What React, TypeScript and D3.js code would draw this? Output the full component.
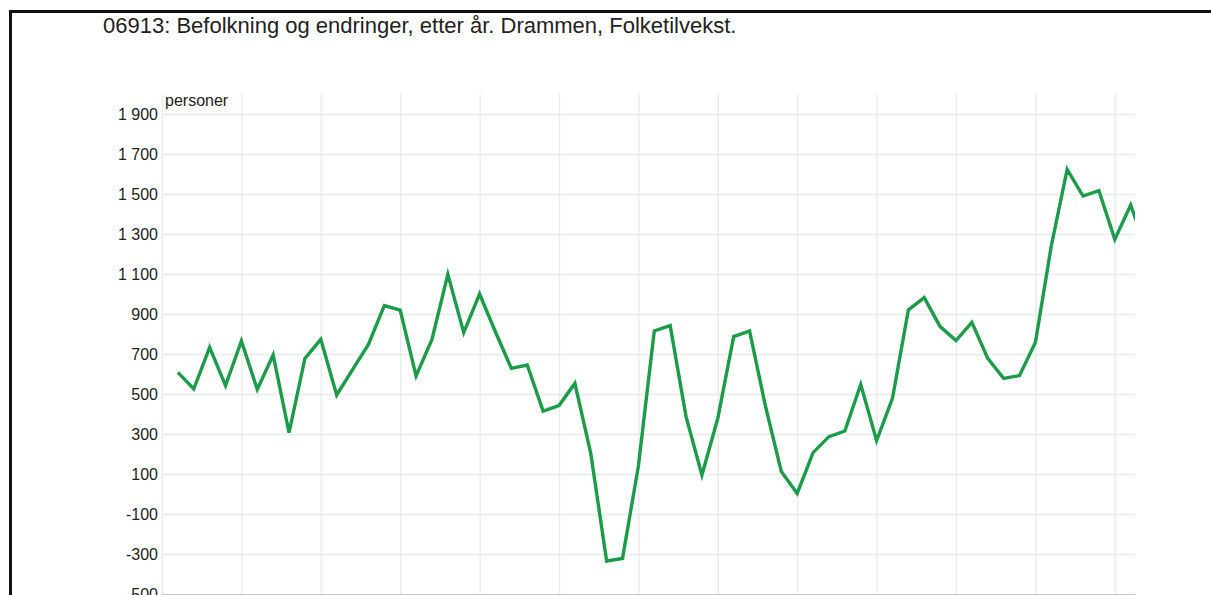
import React from 'react';
import * as d3 from 'd3';

const width = 1211;
const height = 595;

// Folketilvekst, Drammen (personer)
const years = d3.range(1951, 2013);
const growth = [
  608, 525, 733, 542, 765, 523, 695, 307, 678, 773,
  495, 622, 748, 942, 920, 590, 773, 1098, 807, 1000,
  810, 628, 645, 415, 442, 553, 203, -335, -322, 140,
  815, 842, 387, 95, 378, 787, 815, 440, 112, 3,
  207, 287, 315, 548, 267, 478, 920, 982, 837, 767,
  858, 678, 578, 592, 757, 1240, 1623, 1490, 1517, 1273,
  1445, 1220,
];
const yTicks = [-500, -300, -100, 100, 300, 500, 700, 900, 1100, 1300, 1500, 1700, 1900];
const xGridYears = d3.range(1950, 2015, 5);

const title = '06913: Befolkning og endringer, etter år. Drammen, Folketilvekst.';
const unit = 'personer';

const plot = { left: 162, right: 1135, top: 94, bottom: 594 };
const yearStep = 15.88;

const fmt = (v: number) => {
  const s = d3.format(',')(Math.abs(v)).replace(/,/g, ' ');
  return (v < 0 ? '-' : '') + s;
};

export default function App() {
  const x = d3
    .scaleLinear()
    .domain([1950, 2012])
    .range([plot.left, plot.left + 62 * yearStep]);
  const y = d3.scaleLinear().domain([-500, 2000]).range([plot.bottom, plot.top]);

  const line = d3
    .line<number>()
    .x((_, i) => x(years[i]))
    .y((d) => y(d));

  const font = '"Liberation Sans", Arial, sans-serif';

  return (
    <div style={{ position: 'absolute', left: 0, top: 0 }}>
      <svg width={width} height={height} style={{ display: 'block', background: '#fff' }}>
        <defs>
          <clipPath id="plotClip">
            <rect x={plot.left} y={plot.top - 5} width={plot.right - plot.left} height={plot.bottom - plot.top + 10} />
          </clipPath>
        </defs>

        {/* frame */}
        <line x1={9} x2={width} y1={11.5} y2={11.5} stroke="#111" strokeWidth={3} />
        <line x1={10.5} x2={10.5} y1={10} y2={height} stroke="#111" strokeWidth={3} />

        <text x={103} y={33} fontFamily={font} fontSize={22} fill="#222">
          {title}
        </text>

        {/* grid */}
        {yTicks.map((t) => (
          <line key={t} x1={plot.left} x2={plot.right} y1={y(t) + 0.5} y2={y(t) + 0.5} stroke="#e8ebeb" strokeWidth={1.3} />
        ))}
        {xGridYears.map((yr) => (
          <line key={yr} x1={x(yr) + 0.5} x2={x(yr) + 0.5} y1={plot.top} y2={plot.bottom} stroke="#e8ebeb" strokeWidth={1.3} />
        ))}
        <line x1={plot.left} x2={plot.right} y1={plot.bottom + 0.5} y2={plot.bottom + 0.5} stroke="#c8c8c8" />

        {yTicks.map((t) => (
          <text key={t} x={158} y={y(t) + 6} textAnchor="end" fontFamily={font} fontSize={16} fill="#222">
            {fmt(t)}
          </text>
        ))}
        <text x={165} y={106} fontFamily={font} fontSize={16} fill="#222">
          {unit}
        </text>

        <g clipPath="url(#plotClip)">
          <path d={line(growth) ?? ''} fill="none" stroke="#1c9c4a" strokeWidth={3.4} strokeLinejoin="miter" />
        </g>
      </svg>
    </div>
  );
}
